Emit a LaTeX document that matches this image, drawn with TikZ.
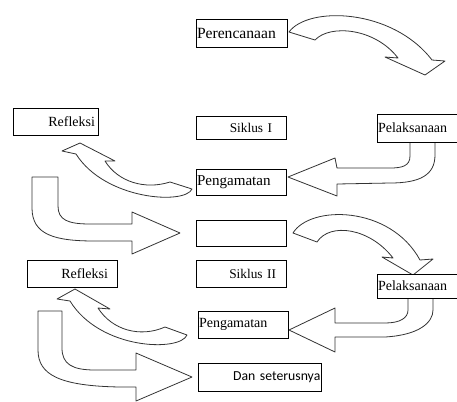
\documentclass[tikz,border=0pt]{standalone}
\usepackage{fontspec}
\setmainfont{Liberation Serif}
\newfontfamily\carlito{Carlito}
\usepackage{tikz}

\begin{document}
\begin{tikzpicture}[x=0.75pt, y=-0.75pt,
    box/.style={draw, fill=white, line width=0.6pt, inner ysep=0pt,
      font=\fontsize{10.5}{12}\selectfont},
    blockarrow/.style={draw=black!80, fill=white, line width=0.6pt, line join=round}]
  \useasboundingbox (0,0) rectangle (457,401);

  % Siklus I arrows
  \draw[blockarrow] (289,32) .. controls (308,6) and (392,8) .. (432,60) -- (445,61) -- (425,75)
    -- (385,57) -- (398,58) .. controls (375,28) and (330,24) .. (315,40) -- cycle;
  \draw[blockarrow] (410,142) -- (410,156) .. controls (410,166) and (402,168) .. (390,168) -- (337,168)
    -- (335,158) -- (288,177) -- (337,196) -- (337,184) -- (390,183)
    .. controls (420,183) and (435,175) .. (435,155) -- (435,142) -- cycle;
  \draw[blockarrow] (62,151) -- (80,143) -- (115,161) -- (105,161)
    .. controls (118,182) and (145,190) .. (170,182) -- (192,189)
    .. controls (185,205) and (105,200) .. (76,154) -- cycle;
  \draw[blockarrow] (32,177) -- (58,177) -- (58,206) .. controls (58,220) and (68,224) .. (90,224)
    -- (132,224) -- (132,212) -- (180,233) -- (132,254) -- (132,241) -- (95,241)
    .. controls (55,241) and (32,235) .. (32,208) -- cycle;

  % Siklus II arrows
  \draw[blockarrow] (293,233) .. controls (310,205) and (390,205) .. (420,260) -- (433,259) -- (413,275)
    -- (382,257) -- (393,258) .. controls (370,228) and (330,222) .. (317,242) -- cycle;
  \draw[blockarrow] (408,298) -- (408,310) .. controls (408,318) and (400,323) .. (385,323) -- (335,323)
    -- (335,308) -- (289,330) -- (335,352) -- (335,337) -- (385,337)
    .. controls (420,335) and (433,322) .. (433,310) -- (433,298) -- cycle;
  \draw[blockarrow] (57,299) -- (75,289) -- (110,309) -- (98,308)
    .. controls (112,330) and (140,338) .. (165,327) -- (187,335)
    .. controls (180,352) and (100,350) .. (70,301) -- cycle;
  \draw[blockarrow] (38,311) -- (62,311) -- (62,348) .. controls (62,364) and (72,370) .. (95,370)
    -- (136,370) -- (136,353) -- (192,377) -- (136,401) -- (136,387) -- (120,387)
    .. controls (60,386) and (38,375) .. (38,350) -- cycle;

  % Siklus I boxes
  \node[box, minimum height=21pt, inner xsep=0.75pt, text width=66.75pt, align=left,
    font=\fontsize{11.7}{13}\selectfont] (plan) at (241.5,33) {Perencanaan};
  \node[box, minimum height=20.25pt, inner xsep=2.25pt, text width=59.25pt, align=right] (refl1) at (55.5,121.5) {Refleksi};
  \node[box, minimum height=17.25pt, inner xsep=10.5pt, text width=46.5pt, align=right,
    font=\fontsize{10}{12}\selectfont] (sik1) at (241,127.5) {Siklus I};
  \node[box, minimum height=21pt, inner xsep=0.75pt, text width=58.5pt, align=left] (pel1) at (417,128) {Pelaksanaan};
  \node[box, minimum height=19.5pt, inner xsep=0.75pt, text width=66pt, align=left,
    font=\fontsize{11.3}{13}\selectfont] (obs1) at (241,182) {Pengamatan};
  \node[box, minimum height=19.5pt, inner xsep=0.75pt, text width=66pt] (blank) at (241,233) {};

  % Siklus II boxes
  \node[box, minimum height=20.25pt, inner xsep=6.75pt, text width=54pt, align=right] (refl2) at (72,273.5) {Refleksi};
  \node[box, minimum height=20.25pt, inner xsep=7.5pt, text width=52.5pt, align=right,
    font=\fontsize{10}{12}\selectfont] (sik2) at (241,273.5) {Siklus II};
  \node[box, minimum height=18pt, inner xsep=0.75pt, text width=58.5pt, align=left] (pel2) at (417,286) {Pelaksanaan};
  \node[box, minimum height=20.25pt, inner xsep=0.75pt, text width=66pt, align=left] (obs2) at (243,324.5) {Pengamatan};
  \node[box, minimum height=21pt, inner xsep=0.5pt, text width=91.25pt, align=right,
    font=\carlito\fontsize{10.3}{12}\selectfont] (dan) at (259.5,377) {Dan seterusnya};
\end{tikzpicture}
\end{document}
